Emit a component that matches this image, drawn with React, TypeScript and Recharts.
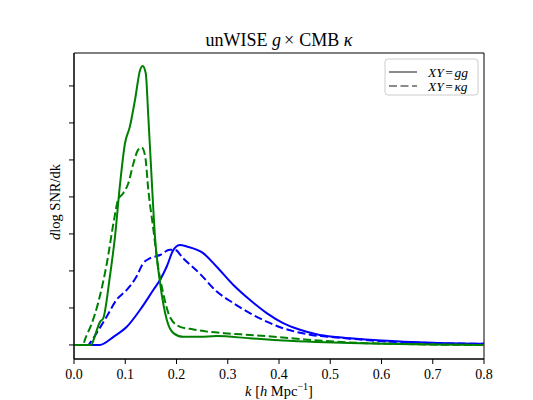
import { Line, LineChart, ReferenceArea, XAxis, YAxis } from 'recharts'

// k in h/Mpc, values in units of the (unlabelled) y ticks
const blueGgK = [0, 0.05, 0.077, 0.103, 0.129, 0.155, 0.168, 0.181, 0.194, 0.207, 0.22, 0.252, 0.278, 0.311, 0.343, 0.376, 0.408, 0.441, 0.473, 0.506, 0.539, 0.6, 0.7, 0.8]
const blueGgSnr = [0, 0, 0.22, 0.49, 0.95, 1.49, 1.76, 2.12, 2.57, 2.7, 2.66, 2.48, 2.12, 1.62, 1.22, 0.86, 0.59, 0.41, 0.29, 0.22, 0.18, 0.12, 0.06, 0.03]

const blueKgK = [0, 0.028, 0.031, 0.044, 0.064, 0.083, 0.103, 0.122, 0.135, 0.148, 0.168, 0.187, 0.197, 0.213, 0.246, 0.278, 0.311, 0.343, 0.376, 0.408, 0.441, 0.473, 0.506, 0.539, 0.6, 0.7, 0.8]
const blueKgSnr = [0, 0, 0.05, 0.32, 0.77, 1.22, 1.49, 1.85, 2.21, 2.34, 2.43, 2.57, 2.57, 2.34, 1.92, 1.45, 1.13, 0.86, 0.63, 0.45, 0.33, 0.25, 0.21, 0.17, 0.1, 0.05, 0.03]

const greenGgK = [0, 0.034, 0.038, 0.051, 0.057, 0.07, 0.08, 0.09, 0.0995, 0.109, 0.119, 0.129, 0.134, 0.14, 0.145, 0.152, 0.158, 0.168, 0.181, 0.194, 0.213, 0.245, 0.278, 0.343, 0.408, 0.473, 0.539, 0.6, 0.7, 0.8]
const greenGgSnr = [0, 0, 0.13, 0.63, 0.72, 1.85, 2.93, 4.37, 5.45, 5.9, 6.62, 7.43, 7.54, 7.34, 6.17, 4.37, 2.93, 1.67, 0.68, 0.32, 0.22, 0.22, 0.24, 0.18, 0.12, 0.08, 0.05, 0.03, 0.01, 0]

const greenKgK = [0, 0.018, 0.021, 0.035, 0.047, 0.064, 0.077, 0.086, 0.096, 0.106, 0.116, 0.125, 0.132, 0.139, 0.145, 0.155, 0.164, 0.174, 0.187, 0.207, 0.233, 0.26, 0.3, 0.343, 0.4, 0.45, 0.5, 0.55, 0.6, 0.7, 0.8]
const greenKgSnr = [0, 0, 0.13, 0.59, 1.13, 2.2, 3.29, 3.92, 4.1, 4.37, 4.91, 5.27, 5.34, 5.09, 4.19, 3.11, 2.12, 1.4, 0.76, 0.49, 0.42, 0.36, 0.31, 0.27, 0.21, 0.15, 0.1, 0.06, 0.04, 0.01, 0]

const xTicks = [0, 0.1, 0.2, 0.3, 0.4, 0.5, 0.6, 0.7, 0.8]
const yTicks = [0, 1, 2, 3, 4, 5, 6, 7]
const xDomain = [0, 0.8]
const yDomain = [-0.38, 7.89]

const FONT = '"Liberation Serif", "DejaVu Serif", serif'

function toRows(ks: number[], vals: number[]) {
  return ks.map((k, i) => ({ k, v: vals[i] }))
}

const series = [
  { name: 'blue-gg', data: toRows(blueGgK, blueGgSnr), color: 'blue', dash: undefined },
  { name: 'blue-kg', data: toRows(blueKgK, blueKgSnr), color: 'blue', dash: '8 3.5' },
  { name: 'green-gg', data: toRows(greenGgK, greenGgSnr), color: 'green', dash: undefined },
  { name: 'green-kg', data: toRows(greenKgK, greenKgSnr), color: 'green', dash: '8 3.5' },
]

function Overlay() {
  return (
    <svg
      width={533}
      height={400}
      style={{ position: 'absolute', left: 0, top: 0, pointerEvents: 'none' }}
      fontFamily={FONT}
    >
      <text x={279} y={46} textAnchor="middle" fontSize={18}>
        unWISE <tspan fontStyle="italic">g</tspan>
        <tspan dx={3}>×</tspan>
        <tspan dx={5}>CMB</tspan> <tspan fontStyle="italic">κ</tspan>
      </text>
      <text x={279} y={396} textAnchor="middle" fontSize={14.5}>
        <tspan fontStyle="italic">k</tspan> [<tspan fontStyle="italic">h</tspan> Mpc
        <tspan fontSize={10} dy={-6}>−1</tspan>
        <tspan dy={6}>]</tspan>
      </text>
      <text x={60} y={202} textAnchor="middle" fontSize={14.5} transform="rotate(-90 60 202)">
        <tspan fontStyle="italic">d</tspan>log SNR/dk
      </text>
      <g>
        <rect x={385} y={59} width={93} height={36} rx={3} fill="white" fillOpacity={0.8} stroke="#cccccc" />
        <line x1={389} x2={417} y1={72} y2={72} stroke="#8a8a8a" strokeWidth={2} />
        <line x1={389} x2={417} y1={86} y2={86} stroke="#8a8a8a" strokeWidth={2} strokeDasharray="8 3.5" />
        <text x={428} y={76.5} fontSize={13.5} fontStyle="italic">
          XY<tspan fontStyle="normal" dx={1.5}>=</tspan><tspan dx={1.5}>gg</tspan>
        </text>
        <text x={428} y={90.5} fontSize={13.5} fontStyle="italic">
          XY<tspan fontStyle="normal" dx={1.5}>=</tspan><tspan dx={1.5}>κg</tspan>
        </text>
      </g>
    </svg>
  )
}

export default function App() {
  return (
    <div style={{ position: 'absolute', left: 0, top: 0, width: 533, height: 400, background: 'white' }}>
      <LineChart width={533} height={400} margin={{ top: 53, right: 49, bottom: 0, left: 0 }}>
        <XAxis
          dataKey="k"
          type="number"
          domain={xDomain}
          ticks={xTicks}
          allowDataOverflow
          height={41}
          tickSize={5}
          tickMargin={5}
          stroke="black"
          tick={{ fill: 'black', fontSize: 14, fontFamily: FONT }}
          tickFormatter={(v: number) => v.toFixed(1)}
        />
        <YAxis
          type="number"
          domain={yDomain}
          ticks={yTicks}
          allowDataOverflow
          width={74}
          tickSize={5}
          stroke="black"
          tickFormatter={() => ''}
        />
        <ReferenceArea
          x1={xDomain[0]}
          x2={xDomain[1]}
          y1={yDomain[0]}
          y2={yDomain[1]}
          fill="none"
          stroke="black"
          strokeWidth={1}
          ifOverflow="visible"
        />
        {series.map((s) => (
          <Line
            key={s.name}
            data={s.data}
            dataKey="v"
            type="monotone"
            stroke={s.color}
            strokeWidth={2}
            strokeDasharray={s.dash}
            dot={false}
            activeDot={false}
            isAnimationActive={false}
          />
        ))}
      </LineChart>
      <Overlay />
    </div>
  )
}
